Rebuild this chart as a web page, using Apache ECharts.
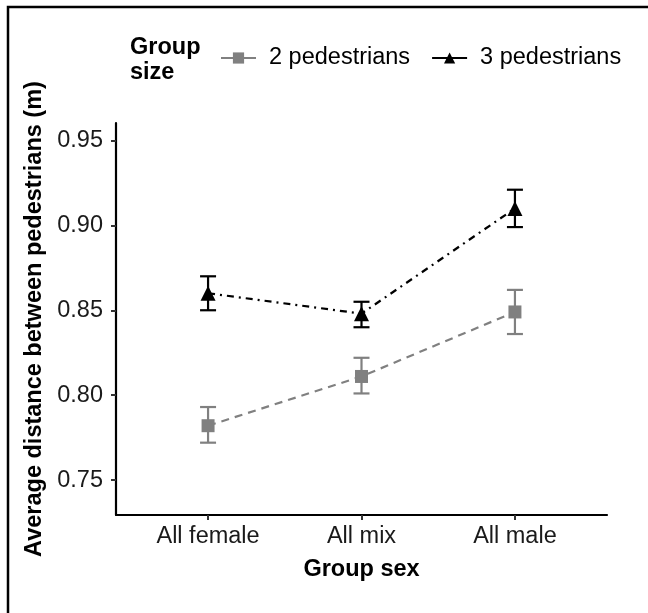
<!DOCTYPE html>
<html>
<head>
<meta charset="utf-8">
<script src="https://cdn.jsdelivr.net/npm/echarts@6/dist/echarts.min.js"></script>
<style>
  html, body { margin: 0; padding: 0; background: #fff; }
  #chart { width: 648px; height: 613px; }
</style>
</head>
<body>
<div id="chart"></div>
<script>
// Group sex categories on the x axis
const categories = ['All female', 'All mix', 'All male'];
// Mean distance and error bar limits, groups of 2 pedestrians
const mean2 = [0.782, 0.811, 0.849];
const low2 = [0.772, 0.801, 0.836];
const high2 = [0.793, 0.822, 0.862];
// Mean distance and error bar limits, groups of 3 pedestrians
const mean3 = [0.860, 0.848, 0.910];
const low3 = [0.850, 0.840, 0.899];
const high3 = [0.870, 0.855, 0.921];
// Tick values on the y axis
const yTicks = [0.75, 0.80, 0.85, 0.90, 0.95];

const FONT = '"Liberation Sans", Arial, sans-serif';
const GREY = '#808080';
const BLACK = '#000000';

const xPos = categories.map((c, i) => i + 1);

function pts(vals) { return vals.map((v, i) => [xPos[i], v]); }
function bars(lo, hi) { return lo.map((v, i) => [xPos[i], v, hi[i]]); }

function errorBar(color) {
  return function (params, api) {
    const x = api.value(0);
    const lo = api.coord([x, api.value(1)]);
    const hi = api.coord([x, api.value(2)]);
    const half = 8;
    const style = { stroke: color, lineWidth: 2.2 };
    return {
      type: 'group',
      children: [
        { type: 'line', shape: { x1: lo[0], y1: lo[1], x2: hi[0], y2: hi[1] }, style },
        { type: 'line', shape: { x1: lo[0] - half, y1: lo[1], x2: lo[0] + half, y2: lo[1] }, style },
        { type: 'line', shape: { x1: hi[0] - half, y1: hi[1], x2: hi[0] + half, y2: hi[1] }, style }
      ]
    };
  };
}

const chart = echarts.init(document.getElementById('chart'), null, { renderer: 'canvas' });

chart.setOption({
  backgroundColor: '#fff',
  animation: false,
  grid: { left: 116, right: 41, top: 123, bottom: 98, containLabel: false },
  xAxis: {
    type: 'value',
    min: 0.4,
    max: 3.6,
    name: 'Group sex',
    nameLocation: 'middle',
    nameGap: 43,
    nameTextStyle: { fontFamily: FONT, fontSize: 23.5, fontWeight: 'bold', color: BLACK },
    splitLine: { show: false },
    axisLine: { show: true, lineStyle: { color: BLACK, width: 2.2 } },
    axisTick: { show: true, length: 5, customValues: xPos, lineStyle: { color: '#333', width: 2 } },
    axisLabel: {
      customValues: xPos,
      formatter: v => categories[Math.round(v) - 1],
      fontFamily: FONT, fontSize: 23.5, color: '#1a1a1a', margin: 10
    }
  },
  yAxis: {
    type: 'value',
    min: 0.7294,
    max: 0.9603,
    name: 'Average distance between pedestrians (m)',
    nameLocation: 'middle',
    nameGap: 62,
    nameTextStyle: { fontFamily: FONT, fontSize: 23.5, fontWeight: 'bold', color: BLACK },
    splitLine: { show: false },
    axisLine: { show: true, lineStyle: { color: BLACK, width: 2.2 } },
    axisTick: { show: true, length: 5, customValues: yTicks, lineStyle: { color: '#333', width: 2 } },
    axisLabel: {
      customValues: yTicks,
      formatter: v => v.toFixed(2),
      fontFamily: FONT, fontSize: 23.5, color: '#1a1a1a', margin: 13
    }
  },
  legend: {
    left: 220,
    top: 46,
    padding: 0,
    itemWidth: 35,
    itemHeight: 14,
    itemGap: 21,
    textStyle: { fontFamily: FONT, fontSize: 23.5, color: BLACK, padding: [0, 0, 0, 8] },
    lineStyle: { type: 'solid', width: 2 },
    data: ['2 pedestrians', '3 pedestrians']
  },
  graphic: [
    {
      type: 'text', left: 130, top: 35,
      style: { text: 'Group\nsize', font: 'bold 23.5px ' + FONT, fill: BLACK, lineHeight: 25 }
    },
    {
      type: 'rect', z: 100,
      shape: { x: 8, y: 7, width: 700, height: 700 },
      style: { fill: 'none', stroke: BLACK, lineWidth: 2.5 }
    }
  ],
  series: [
    {
      type: 'custom',
      name: 'err2',
      renderItem: errorBar(GREY),
      data: bars(low2, high2),
      z: 2
    },
    {
      type: 'custom',
      name: 'err3',
      renderItem: errorBar(BLACK),
      data: bars(low3, high3),
      z: 2
    },
    {
      type: 'line',
      name: '2 pedestrians',
      data: pts(mean2),
      symbol: 'rect',
      symbolSize: 13,
      itemStyle: { color: GREY },
      lineStyle: { color: GREY, width: 2.2, type: [8, 6] },
      z: 3
    },
    {
      type: 'line',
      name: '3 pedestrians',
      data: pts(mean3),
      symbol: 'triangle',
      symbolSize: 15,
      itemStyle: { color: BLACK },
      lineStyle: { color: BLACK, width: 2.2, type: [7, 5, 2, 5] },
      z: 3
    }
  ]
});
</script>
</body>
</html>
